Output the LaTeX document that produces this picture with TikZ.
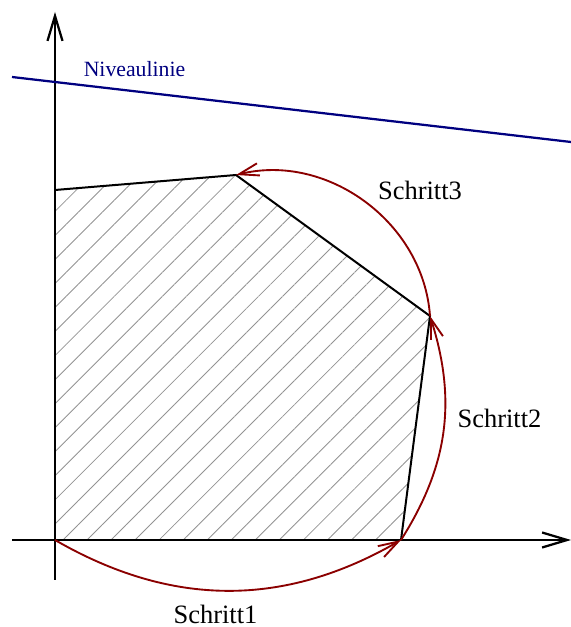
\documentclass[tikz,border=0pt]{standalone}
\usepackage{fontspec}
\setmainfont{Liberation Serif}
\usetikzlibrary{arrows.meta,patterns.meta}
\definecolor{navy}{RGB}{0,0,128}
\definecolor{darkred}{RGB}{139,0,0}

\begin{document}
\begin{tikzpicture}[x=0.4pt, y=0.4pt,
    axis/.style={line width=0.9pt, -{Straight Barb[length=10pt,width=6pt]}},
    stepline/.style={darkred, line width=0.75pt, -{Straight Barb[length=8pt,width=5pt]}},
    steplabel/.style={anchor=base, font=\fontsize{10.6}{12}\selectfont}]
    \useasboundingbox (0,0) rectangle (571,627);

    \coordinate (o) at (55,87);
    \coordinate (a) at (401,87);
    \coordinate (b) at (430,311);
    \coordinate (c) at (236,452);
    \coordinate (d) at (55,437);
    \coordinate (xstart) at (12,87);
    \coordinate (xend) at (571,87);
    \coordinate (ystart) at (55,47);
    \coordinate (yend) at (55,615);
    \coordinate (nleft) at (12,550);
    \coordinate (nright) at (571,485);

    \fill[pattern={Lines[angle=45,distance=6.8pt,line width=0.35pt]}, pattern color=gray!85]
      (o) -- (a) -- (b) -- (c) -- (d) -- cycle;
    \draw[line width=0.8pt] (a) -- (b) -- (c) -- (d);

    \draw[axis] (xstart) -- (xend);
    \draw[axis] (ystart) -- (yend);

    \draw[navy, line width=0.9pt] (nleft) -- (nright);
    \node[navy, anchor=base, font=\fontsize{8.7}{10}\selectfont] (niveau) at (134.5,550) {Niveaulinie};

    \draw[stepline] (o) to[bend right=30] (a);
    \draw[stepline] (a) to[bend right=25] (b);
    \draw[stepline] (b) to[bend right=50] (c);

    \node[steplabel] (schritt1) at (215.5,4) {Schritt1};
    \node[steplabel] (schritt2) at (499.5,199) {Schritt2};
    \node[steplabel] (schritt3) at (420,427) {Schritt3};
\end{tikzpicture}
\end{document}
